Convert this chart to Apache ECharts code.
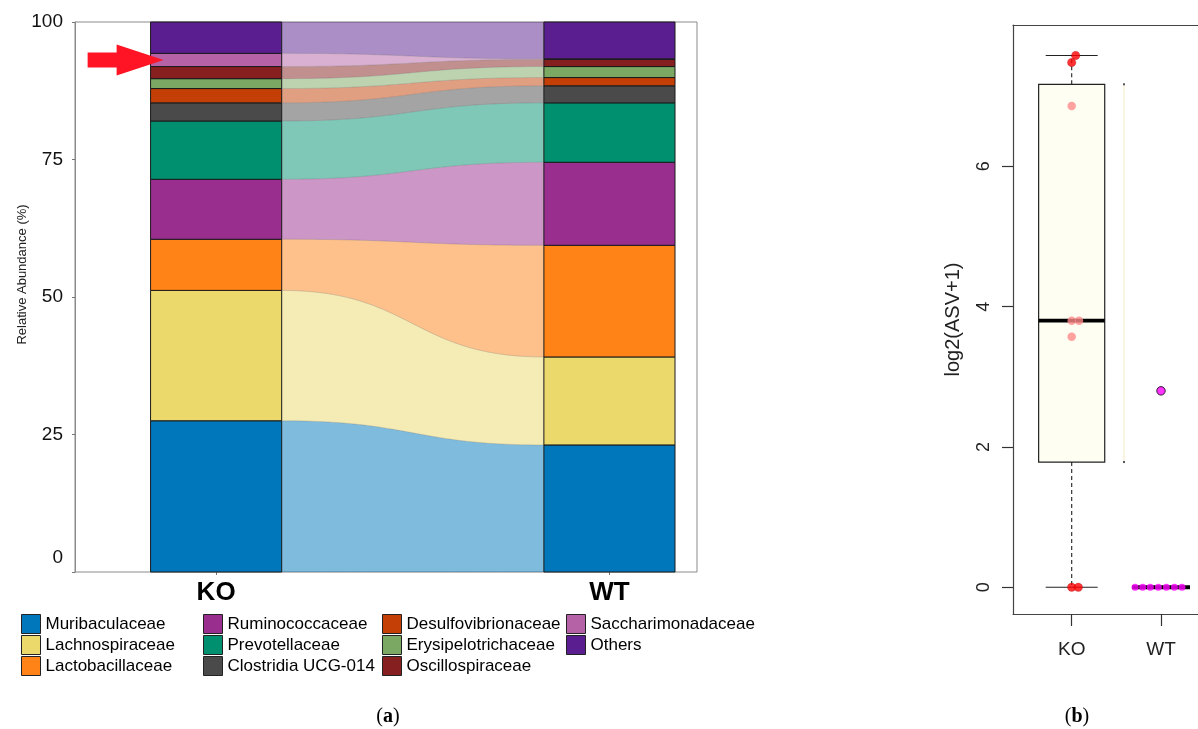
<!DOCTYPE html>
<html><head><meta charset="utf-8">
<script src="https://cdn.jsdelivr.net/npm/echarts@6/dist/echarts.min.js"></script>
<style>html,body{margin:0;padding:0;background:#fff}#c{width:1198px;height:729px}</style>
</head><body><div id="c"></div><script>
// ---------- data ----------
const families = ['Muribaculaceae','Lachnospiraceae','Lactobacillaceae','Ruminococcaceae','Prevotellaceae','Clostridia UCG-014','Desulfovibrionaceae','Erysipelotrichaceae','Oscillospiraceae','Saccharimonadaceae','Others'];
const familyColors = ['#0077bb','#ebd96b','#ff8317','#9a2e8e','#009070','#4a4a4a','#c33f06','#7ba862','#861f20','#b662a6','#5a1e90'];
const groups = ['KO','WT'];
const koAbundance = [27.5,23.7,9.3,10.9,10.6,3.3,2.6,1.8,2.2,2.4,5.7];
const wtAbundance = [23.1,16.0,20.3,15.1,10.8,3.1,1.5,2.0,1.3,0.1,6.7];
const yTicksA = [0,25,50,75,100];
const koLog2 = [7.58,7.48,6.86,3.80,3.80,3.57,0,0];
const koJitter = [0.045,0,0,0,0.082,0,0,0.074];
const wtLog2 = [0,0,0,0,0,0,0,2.80];
const wtJitter = [-0.29,-0.205,-0.12,-0.03,0.06,0.15,0.235,0];
const yTicksB = [0,2,4,6];
const arrowTarget = 'Saccharimonadaceae';

// ---------- helpers ----------
function cumulate(vals){let acc=0;return vals.map(v=>{const lo=acc;acc+=v;return [lo,acc];});}
function rgba(hex,a){const n=parseInt(hex.slice(1),16);return 'rgba('+((n>>16)&255)+','+((n>>8)&255)+','+(n&255)+','+a+')';}
function sCurve(x0,y0,x1,y1,n){const xm=(x0+x1)/2,p=[];for(let i=0;i<=n;i++){const t=i/n,u=1-t;
  const x=u*u*u*x0+3*u*u*t*xm+3*u*t*t*xm+t*t*t*x1;const y=u*u*u*y0+3*u*u*t*y0+3*u*t*t*y1+t*t*t*y1;p.push([x,y]);}return p;}
function fivenum(arr){const x=[...arr].sort((a,b)=>a-b),n=x.length,n4=Math.floor((n+3)/2)/2;
  return [1,n4,(n+1)/2,n+1-n4,n].map(d=>0.5*(x[Math.floor(d)-1]+x[Math.ceil(d)-1]));}
function boxStats(arr){const f=fivenum(arr),iqr=f[3]-f[1],lo=f[1]-1.5*iqr,hi=f[3]+1.5*iqr;
  const inside=arr.filter(v=>v>=lo&&v<=hi);return {min:Math.min(...inside),q1:f[1],med:f[2],q3:f[3],max:Math.max(...inside),lo,hi};}

const koCum=cumulate(koAbundance), wtCum=cumulate(wtAbundance);
const BAR_HALF=1/6;
const FONT='"Liberation Sans", Arial, sans-serif';

// ---------- alluvial series ----------
const alluvial = families.map((name,i)=>({
  name, type:'custom', xAxisIndex:0, yAxisIndex:0, clip:false,
  itemStyle:{color:familyColors[i]},
  data:[[koCum[i][0],koCum[i][1],wtCum[i][0],wtCum[i][1]]],
  renderItem:(params,api)=>{
    const col=familyColors[i];
    const kL=api.value(0),kH=api.value(1),wL=api.value(2),wH=api.value(3);
    const k0=api.coord([1-BAR_HALF,kH]),k1=api.coord([1+BAR_HALF,kL]);
    const w0=api.coord([2-BAR_HALF,wH]),w1=api.coord([2+BAR_HALF,wL]);
    const top=sCurve(k1[0],k0[1],w0[0],w0[1],48);
    const bot=sCurve(w0[0],w1[1],k1[0],k1[1],48);
    return {type:'group',children:[
      {type:'polygon',shape:{points:top.concat(bot)},style:{fill:rgba(col,0.5),stroke:'rgba(120,120,120,0.3)',lineWidth:0.6}},
      {type:'rect',shape:{x:k0[0],y:k0[1],width:k1[0]-k0[0],height:k1[1]-k0[1]},style:{fill:col,stroke:'#1a1a1a',lineWidth:1}},
      {type:'rect',shape:{x:w0[0],y:w0[1],width:w1[0]-w0[0],height:w1[1]-w0[1]},style:{fill:col,stroke:'#1a1a1a',lineWidth:1}}
    ]};
  }
}));

const ti=families.indexOf(arrowTarget);
const arrowSeries={type:'scatter',xAxisIndex:0,yAxisIndex:0,silent:true,z:10,
  data:[[1,(koCum[ti][0]+koCum[ti][1])/2]],
  symbol:'path://M0,8 L29,8 L29,0 L76,15.5 L29,31 L29,23 L0,23 Z',
  symbolSize:[76,31],symbolOffset:[-90.5,0],itemStyle:{color:'#ff1426',opacity:1}};

// ---------- boxplot ----------
const groupVals=[koLog2,wtLog2], groupJit=[koJitter,wtJitter];
const stats=groupVals.map(boxStats);
const boxHalf=[0.37,0.325], capHalf=0.291;
const boxSeries={type:'custom',xAxisIndex:1,yAxisIndex:1,z:2,clip:false,
  data:stats.map((s,g)=>[g+1,s.min,s.q1,s.med,s.q3,s.max]),
  renderItem:(params,api)=>{
    const g=api.value(0),mn=api.value(1),q1=api.value(2),md=api.value(3),q3=api.value(4),mx=api.value(5);
    const h=boxHalf[params.dataIndex];
    const bl=api.coord([g-h,q3]),br=api.coord([g+h,q1]);
    const c=api.coord([g,md]);
    const pMin=api.coord([g,mn]),pMax=api.coord([g,mx]),pQ1=api.coord([g,q1]),pQ3=api.coord([g,q3]);
    const cl=api.coord([g-capHalf,0])[0],cr=api.coord([g+capHalf,0])[0];
    const ml=api.coord([g-h,md])[0],mr=api.coord([g+h,md])[0];
    const ch=[
      {type:'line',shape:{x1:pQ3[0],y1:pQ3[1],x2:pMax[0],y2:pMax[1]},style:{stroke:'#333',lineWidth:1.2,lineDash:[4,3]}},
      {type:'line',shape:{x1:pQ1[0],y1:pQ1[1],x2:pMin[0],y2:pMin[1]},style:{stroke:'#333',lineWidth:1.2,lineDash:[4,3]}},
      {type:'line',shape:{x1:cl,y1:pMax[1],x2:cr,y2:pMax[1]},style:{stroke:'#222',lineWidth:1.2}},
      {type:'line',shape:{x1:cl,y1:pMin[1],x2:cr,y2:pMin[1]},style:{stroke:'#222',lineWidth:1.2}},
      {type:'rect',shape:{x:bl[0],y:bl[1],width:br[0]-bl[0],height:br[1]-bl[1]},style:{fill:'#fffef3',stroke:'#222',lineWidth:1.2}},
      {type:'line',shape:{x1:ml,y1:c[1],x2:mr,y2:c[1]},style:{stroke:'#000',lineWidth:3.8}}
    ];
    if(q3>q1){ // faint ghost edge seen right of the box
      const gx=api.coord([g+0.586,q1])[0];
      ch.push({type:'line',shape:{x1:gx,y1:pQ3[1],x2:gx,y2:pQ1[1]},style:{stroke:'#f6f1d8',lineWidth:1.5}});
      ch.push({type:'rect',shape:{x:gx-1,y:pQ3[1]-1,width:2,height:2},style:{fill:'#555'}});
      ch.push({type:'rect',shape:{x:gx-1,y:pQ1[1]-1,width:2,height:2},style:{fill:'#555'}});
    }
    return {type:'group',children:ch};
  }};
const ptColor=['#ff0000','#ff00ff'], ptLight=['#ff8a8a','#ff8aff'];
const pointData=[];
groupVals.forEach((vals,g)=>{const s=stats[g];vals.forEach((v,j)=>{
  const inBox=v>s.q1&&v<s.q3, out=v<s.lo||v>s.hi;
  pointData.push({value:[g+1+groupJit[g][j],v],symbolSize:g===1&&!out?7:8.5,
    itemStyle:{color:inBox?ptLight[g]:ptColor[g],
    borderColor:out?'#000':(inBox?'rgba(0,0,0,0)':'rgba(120,0,0,0.45)'),borderWidth:out?1:(g===1?0:0.6)}});
});});
const pointSeries={type:'scatter',xAxisIndex:1,yAxisIndex:1,z:4,data:pointData,silent:true};

// ---------- legends ----------
const legendCols=[[0,1,2],[3,4,5],[6,7,8],[9,10]], legendLeft=[21,203,382,566];
const legends=legendCols.map((col,k)=>({orient:'vertical',left:legendLeft[k],top:614,padding:0,
  itemWidth:19,itemHeight:19,itemGap:1,icon:'rect',selectedMode:false,
  itemStyle:{borderColor:'#222',borderWidth:1},
  textStyle:{fontFamily:FONT,fontSize:17,color:'#000',padding:[0,0,0,0]},
  data:col.map(i=>families[i])}));

const BX_MIN=0.343, BX_MAX=2.4143, BY_MIN=-0.381, BY_MAX=8.015;
const chart=echarts.init(document.getElementById('c'),null,{renderer:'canvas'});
chart.setOption({
  animation:false, backgroundColor:'#fff', textStyle:{fontFamily:FONT},
  legend:legends,
  grid:[
    {left:75,right:501,top:22,bottom:157,show:true,borderColor:'#8a8a8a',borderWidth:1,backgroundColor:'transparent'},
    {left:1013,right:0,top:25,bottom:115,show:false}
  ],
  xAxis:[
    {type:'value',gridIndex:0,min:0.6412,max:2.2226,splitLine:{show:false},axisLine:{show:false},
     axisTick:{show:true,customValues:[1,2],length:3,lineStyle:{color:'#777'}},
     axisLabel:{customValues:[1,2],formatter:v=>groups[Math.round(v)-1],fontSize:26,fontWeight:'bold',color:'#000',margin:8}},
    {type:'value',gridIndex:1,min:BX_MIN,max:BX_MAX,splitLine:{show:false},
     axisLine:{show:true,onZero:false,lineStyle:{color:'#444',width:1.2}},
     axisTick:{show:true,customValues:[1,2],length:12,lineStyle:{color:'#333',width:1.2}},
     axisLabel:{customValues:[1,2],formatter:v=>groups[Math.round(v)-1],fontSize:19,color:'#222',margin:26}},
    {type:'value',gridIndex:1,position:'top',min:BX_MIN,max:BX_MAX,splitLine:{show:false},
     axisLine:{show:true,onZero:false,lineStyle:{color:'#444',width:1.2}},axisTick:{show:false},axisLabel:{show:false}}
  ],
  yAxis:[
    {type:'value',gridIndex:0,min:0,max:100,splitLine:{show:false},axisLine:{show:true,lineStyle:{color:'#8a8a8a'}},
     axisTick:{show:true,customValues:yTicksA,length:3,lineStyle:{color:'#777'}},
     axisLabel:{customValues:yTicksA,fontSize:19,color:'#111',margin:12,
       formatter:v=>v===0?'{z|0}':String(v),rich:{z:{fontSize:19,color:'#111',padding:[0,0,28,0]}}},
     name:'Relative Abundance (%)',nameLocation:'middle',nameGap:46,nameMoveOverlap:false,
     nameTextStyle:{fontSize:13,color:'#222',padding:[0,0,0,45]}},
    {type:'value',gridIndex:1,min:BY_MIN,max:BY_MAX,splitLine:{show:false},
     axisLine:{show:true,onZero:false,lineStyle:{color:'#444',width:1.2}},
     axisTick:{show:true,customValues:yTicksB,length:11,lineStyle:{color:'#333',width:1.2}},
     axisLabel:{customValues:yTicksB,fontSize:18,color:'#222',rotate:90,margin:20},
     name:'log2(ASV+1)',nameLocation:'middle',nameGap:50,nameTextStyle:{fontSize:20,color:'#222'}}
  ],
  series:[...alluvial,arrowSeries,boxSeries,pointSeries],
  graphic:[
    {type:'text',x:388,y:717,style:{text:'({b|a})',textAlign:'center',textVerticalAlign:'middle',
      font:'20px "Liberation Serif", serif',fill:'#000',rich:{b:{fontWeight:'bold',fontSize:20,fontFamily:'"Liberation Serif", serif'}}}},
    {type:'text',x:1077,y:717,style:{text:'({b|b})',textAlign:'center',textVerticalAlign:'middle',
      font:'20px "Liberation Serif", serif',fill:'#000',rich:{b:{fontWeight:'bold',fontSize:20,fontFamily:'"Liberation Serif", serif'}}}}
  ]
});
</script></body></html>
